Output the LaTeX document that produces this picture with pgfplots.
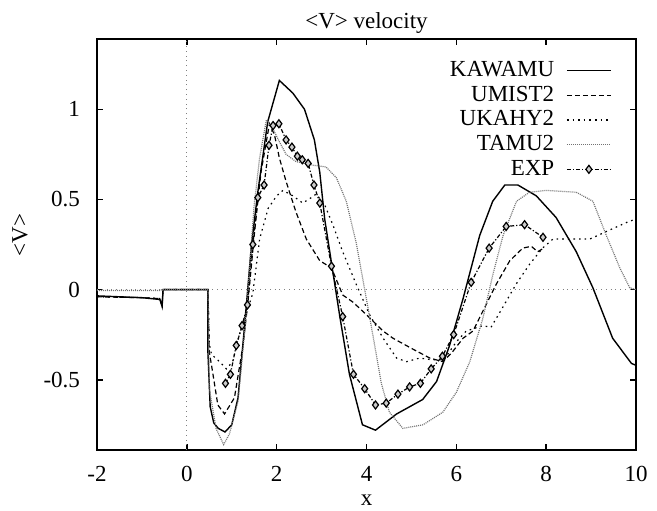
\documentclass[border=0pt]{standalone}
\usepackage{fontspec}
\setmainfont{Liberation Serif}
\usepackage{pgfplots}
\pgfplotsset{compat=1.18}

\pgfplotstableread{
x y
-2 -0.035
-1.5 -0.04
-1 -0.045
-0.6 -0.055
-0.55 -0.095
-0.53 0
0.47 0
0.47 -0.35
0.52 -0.65
0.6 -0.74
0.7 -0.77
0.85 -0.79
1.0 -0.75
1.14 -0.60
1.29 -0.19
1.44 0.25
1.58 0.54
1.8 0.93
2.06 1.16
2.36 1.09
2.62 1.00
2.84 0.83
2.96 0.65
3.07 0.39
3.25 0.10
3.40 -0.14
3.62 -0.47
3.91 -0.75
4.20 -0.78
4.67 -0.69
5.25 -0.61
5.56 -0.51
5.85 -0.31
6.15 -0.05
6.52 0.30
6.81 0.49
7.08 0.58
7.37 0.58
7.78 0.52
8.22 0.40
8.67 0.21
9.04 0.01
9.48 -0.27
9.9 -0.41
10 -0.42
}\kawamu

\pgfplotstableread{
x y
-2 -0.04
-1 -0.045
-0.6 -0.05
-0.55 -0.09
-0.53 0
0.47 0
0.5 -0.35
0.55 -0.42
0.69 -0.64
0.84 -0.69
1.06 -0.60
1.25 -0.31
1.36 -0.07
1.5 0.30
1.65 0.65
1.84 0.92
1.95 0.86
2.06 0.73
2.21 0.60
2.43 0.43
2.66 0.28
2.96 0.16
3.22 0.12
3.47 -0.03
3.70 -0.07
4.0 -0.14
4.37 -0.23
4.59 -0.27
5.03 -0.33
5.41 -0.38
5.7 -0.40
5.9 -0.35
6.15 -0.27
6.37 -0.23
6.59 -0.12
6.89 0.03
7.19 0.16
7.48 0.23
7.67 0.24
7.81 0.21
7.95 0.23
}\umist

\pgfplotstableread{
x y
-2 -0.04
-1 -0.045
-0.6 -0.05
-0.55 -0.08
-0.53 0
0.47 0
0.5 -0.30
0.55 -0.36
0.73 -0.40
0.88 -0.44
1.02 -0.40
1.17 -0.25
1.3 -0.15
1.47 -0.02
1.62 0.28
1.81 0.45
2.0 0.52
2.14 0.55
2.36 0.52
2.58 0.48
2.77 0.51
2.88 0.53
3.07 0.47
3.25 0.36
3.47 0.21
3.77 0.03
4.07 -0.14
4.37 -0.27
4.67 -0.38
4.89 -0.40
5.18 -0.38
5.48 -0.39
5.72 -0.39
6.0 -0.29
6.22 -0.23
6.59 -0.20
6.77 -0.21
7.03 -0.10
7.33 0.03
7.63 0.14
7.92 0.23
8.15 0.28
8.67 0.28
8.97 0.28
9.41 0.33
9.86 0.38
10 0.39
}\ukahy

\pgfplotstableread{
x y
-2 -0.005
-0.6 -0.005
-0.55 0
0.47 0
0.5 -0.55
0.65 -0.77
0.82 -0.86
0.95 -0.80
1.14 -0.62
1.3 -0.20
1.5 0.47
1.62 0.73
1.77 0.94
1.9 0.90
2.06 0.82
2.21 0.75
2.43 0.71
2.81 0.69
3.10 0.68
3.33 0.62
3.55 0.49
3.77 0.26
3.96 0.0
4.14 -0.25
4.33 -0.52
4.51 -0.68
4.81 -0.77
5.26 -0.75
5.7 -0.68
6.0 -0.57
6.3 -0.40
6.59 -0.16
6.81 0.08
7.04 0.30
7.34 0.49
7.63 0.54
8.0 0.55
8.67 0.54
9.04 0.49
9.34 0.30
9.64 0.12
9.86 0.01
10 0.0
}\tamu

\pgfplotstableread{
x y
0.86 -0.52
0.97 -0.47
1.10 -0.31
1.23 -0.20
1.35 -0.085
1.47 0.25
1.58 0.51
1.72 0.58
1.83 0.80
1.92 0.91
2.05 0.92
2.21 0.83
2.34 0.79
2.46 0.74
2.57 0.72
2.70 0.70
2.83 0.58
2.96 0.48
3.22 0.13
3.47 -0.15
3.71 -0.47
3.96 -0.55
4.20 -0.64
4.44 -0.63
4.70 -0.58
4.96 -0.54
5.20 -0.52
5.44 -0.44
5.69 -0.37
5.94 -0.25
6.33 0.04
6.73 0.23
7.11 0.35
7.52 0.36
7.93 0.29
}\expdata

\begin{document}
\fontsize{11.5}{13}\selectfont
\begin{tikzpicture}
\begin{axis}[name=ax, scale only axis, width=269.5pt, height=205.5pt,
  xmin=-2, xmax=10, ymin=-0.89, ymax=1.39,
  xtick={-2,0,2,4,6,8,10}, ytick={-0.5,0,0.5,1},
  /pgf/number format/assume math mode=true,
  tick align=inside, major tick length=3pt,
  axis line style={line width=1pt},
  every tick/.style={black, line width=0.8pt},
  xticklabel style={anchor=base, yshift=-15.5pt, inner sep=0pt},
  yticklabel style={xshift=-4.5pt},
  title={<V> velocity},
  title style={at={(axis description cs:0.5,1)}, anchor=base, yshift=-1pt, inner sep=0pt},
  xlabel={x}, ylabel={<V>},
  xlabel style={at={(axis description cs:0.5,0)}, anchor=base, yshift=-27.5pt, inner sep=0pt},
  ylabel style={at={(axis description cs:-0.1429,0.523)}, anchor=center, inner sep=0pt},
  legend cell align=right, legend plot pos=right,
  legend image code/.code={\draw[mark repeat=2,mark phase=2,#1] plot coordinates {(0pt,0pt) (11pt,0pt) (22pt,0pt)};},
  legend style={draw=none, fill=none, at={(axis description cs:1,1)}, anchor=north east,
    xshift=-12pt, yshift=-9pt, inner sep=0pt, row sep=-1pt, column sep=4pt,
    font=\fontsize{11.5}{13}\selectfont},
]
\addplot[gray, dotted, forget plot] coordinates {(-2,0) (10,0)};
\addplot[gray, dotted, forget plot] coordinates {(0,-0.89) (0,1.39)};
\addplot[black, line width=0.7pt] table {\kawamu};
\addplot[black, line width=0.6pt, dash pattern=on 2.5pt off 1.5pt] table {\umist};
\addplot[black, line width=0.6pt, dash pattern=on 0.8pt off 2pt] table {\ukahy};
\addplot[black!55, line width=0.6pt, dash pattern=on 0.5pt off 0.5pt] table {\tamu};
\addplot[black, line width=0.6pt, dash pattern=on 2pt off 1pt on 0.6pt off 1pt,
  mark=diamond*, mark size=2pt, mark options={solid, fill=gray!40, line width=0.6pt}] table {\expdata};
\legend{KAWAMU, UMIST2, UKAHY2, TAMU2, EXP}
\end{axis}
\pgfresetboundingbox
\useasboundingbox ([shift={(-48.5pt,-30pt)}]ax.south west) rectangle ([shift={(10.5pt,19.5pt)}]ax.north east);
\end{tikzpicture}
\end{document}
